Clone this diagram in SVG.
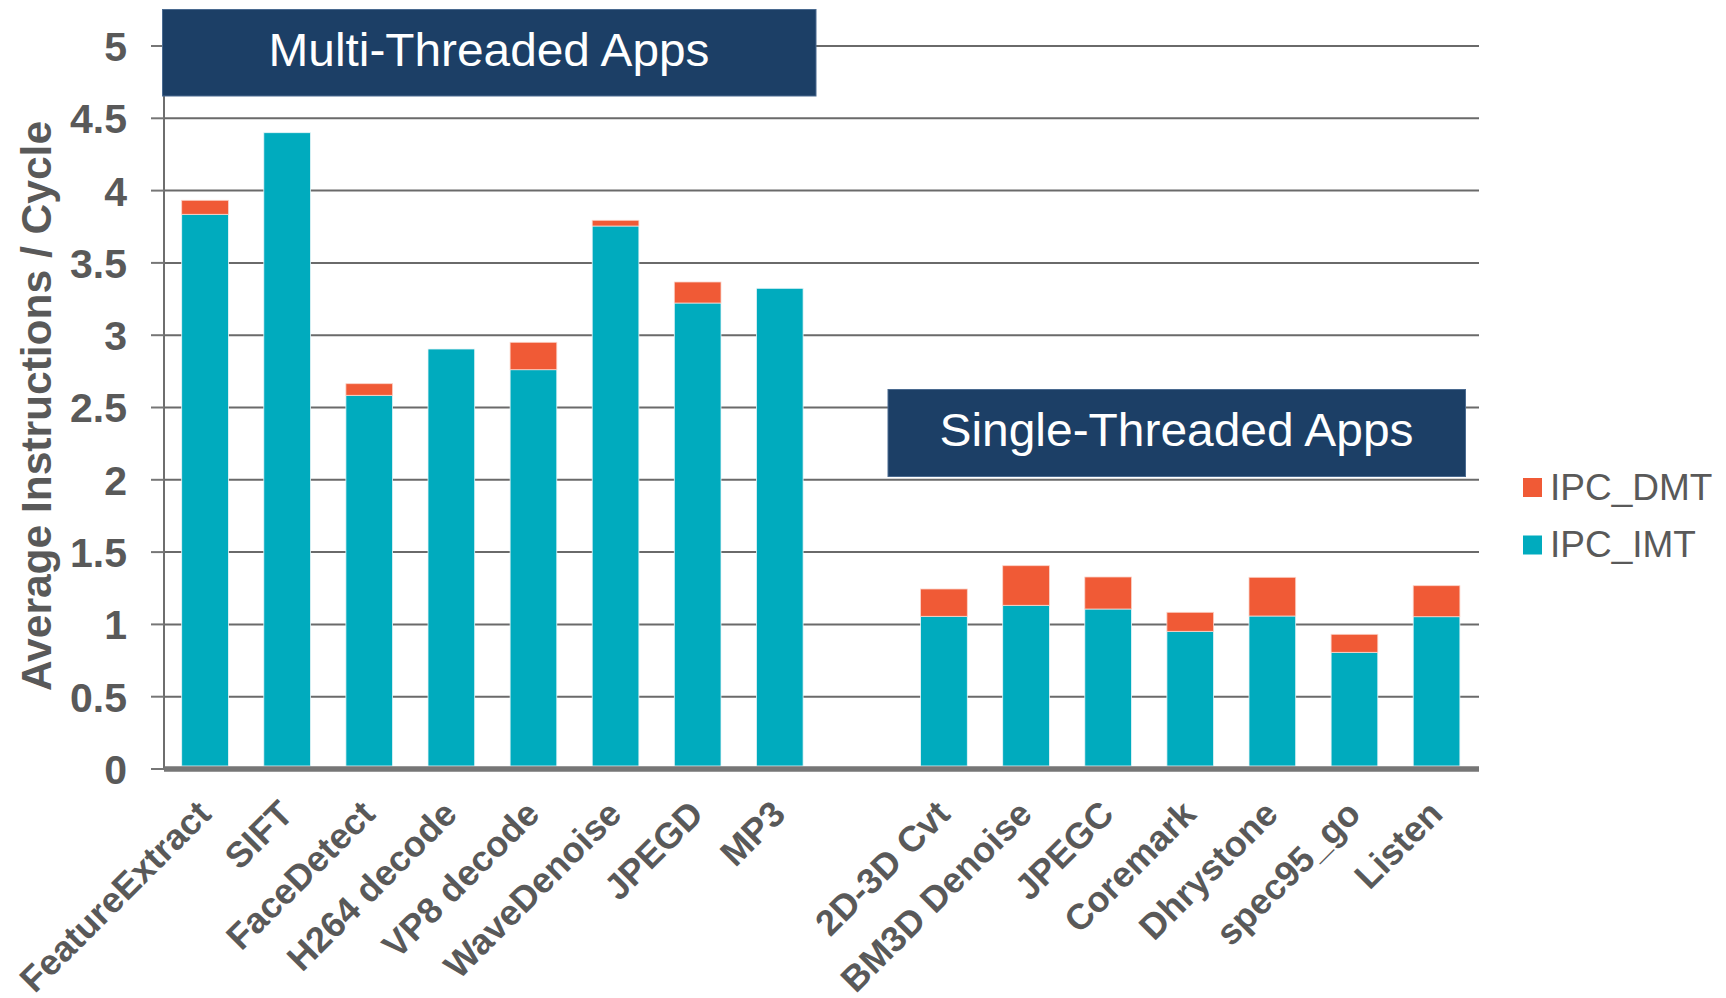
<svg xmlns="http://www.w3.org/2000/svg" width="1726" height="998" viewBox="0 0 1726 998">
<style>
.grid{stroke:#6a6a6a;stroke-width:2;fill:none}
.tick{stroke:#767676;stroke-width:2}
.imt{fill:#00abbe;stroke:#e8f6f8;stroke-width:0.8}
.dmt{fill:#f05a36;stroke:#fbd3c8;stroke-width:0.8}
.ylab{font-family:"Liberation Sans",Arial,sans-serif;font-weight:bold;font-size:41px;fill:#595959;text-anchor:end}
.xlab{font-family:"Liberation Sans",Arial,sans-serif;font-weight:bold;font-size:36px;fill:#595959;text-anchor:end}
.title{font-family:"Liberation Sans",Arial,sans-serif;font-weight:bold;font-size:42.5px;fill:#595959;text-anchor:middle}
.leg{font-family:"Liberation Sans",Arial,sans-serif;font-size:37px;fill:#595959}
.box{fill:#1c3f66;stroke:#4a6a90;stroke-width:1}
.boxt{font-family:"Liberation Sans",Arial,sans-serif;font-size:47px;fill:#ffffff;text-anchor:middle}
</style>
<rect width="1726" height="998" fill="#ffffff"/>
<g id="gridlines">
<line class="grid" x1="164" y1="46" x2="1479" y2="46"/>
<line class="grid" x1="164" y1="118.3" x2="1479" y2="118.3"/>
<line class="grid" x1="164" y1="190.6" x2="1479" y2="190.6"/>
<line class="grid" x1="164" y1="262.9" x2="1479" y2="262.9"/>
<line class="grid" x1="164" y1="335.2" x2="1479" y2="335.2"/>
<line class="grid" x1="164" y1="407.5" x2="1479" y2="407.5"/>
<line class="grid" x1="164" y1="479.8" x2="1479" y2="479.8"/>
<line class="grid" x1="164" y1="552.1" x2="1479" y2="552.1"/>
<line class="grid" x1="164" y1="624.4" x2="1479" y2="624.4"/>
<line class="grid" x1="164" y1="696.7" x2="1479" y2="696.7"/>
</g>
<g id="bars">
<rect class="imt" x="181.7" y="214.3" width="46.7" height="551.7"/>
<rect class="dmt" x="181.7" y="200.3" width="46.7" height="14"/>
<rect class="imt" x="263.8" y="132.7" width="46.7" height="633.3"/>
<rect class="imt" x="345.9" y="395.3" width="46.7" height="370.7"/>
<rect class="dmt" x="345.9" y="383.7" width="46.7" height="11.6"/>
<rect class="imt" x="428" y="349" width="46.7" height="417"/>
<rect class="imt" x="510.1" y="369.7" width="46.7" height="396.3"/>
<rect class="dmt" x="510.1" y="342.3" width="46.7" height="27.4"/>
<rect class="imt" x="592.2" y="226" width="46.7" height="540"/>
<rect class="dmt" x="592.2" y="220.3" width="46.7" height="5.7"/>
<rect class="imt" x="674.3" y="303" width="46.7" height="463"/>
<rect class="dmt" x="674.3" y="282" width="46.7" height="21"/>
<rect class="imt" x="756.4" y="288.3" width="46.7" height="477.7"/>
<rect class="imt" x="920.6" y="616.3" width="46.7" height="149.7"/>
<rect class="dmt" x="920.6" y="589" width="46.7" height="27.3"/>
<rect class="imt" x="1002.7" y="605.3" width="46.7" height="160.7"/>
<rect class="dmt" x="1002.7" y="565.7" width="46.7" height="39.6"/>
<rect class="imt" x="1084.8" y="609" width="46.7" height="157"/>
<rect class="dmt" x="1084.8" y="577" width="46.7" height="32"/>
<rect class="imt" x="1166.9" y="631.3" width="46.7" height="134.7"/>
<rect class="dmt" x="1166.9" y="612.3" width="46.7" height="19"/>
<rect class="imt" x="1249" y="616" width="46.7" height="150"/>
<rect class="dmt" x="1249" y="577.3" width="46.7" height="38.7"/>
<rect class="imt" x="1331.1" y="652.3" width="46.7" height="113.7"/>
<rect class="dmt" x="1331.1" y="634.3" width="46.7" height="18"/>
<rect class="imt" x="1413.2" y="616.7" width="46.7" height="149.3"/>
<rect class="dmt" x="1413.2" y="585.7" width="46.7" height="31"/>
</g>
<g id="axes">
<line x1="164" y1="46" x2="164" y2="769" stroke="#6e6e6e" stroke-width="2"/>
<line class="tick" x1="151" y1="46" x2="164" y2="46"/>
<line class="tick" x1="151" y1="118.3" x2="164" y2="118.3"/>
<line class="tick" x1="151" y1="190.6" x2="164" y2="190.6"/>
<line class="tick" x1="151" y1="262.9" x2="164" y2="262.9"/>
<line class="tick" x1="151" y1="335.2" x2="164" y2="335.2"/>
<line class="tick" x1="151" y1="407.5" x2="164" y2="407.5"/>
<line class="tick" x1="151" y1="479.8" x2="164" y2="479.8"/>
<line class="tick" x1="151" y1="552.1" x2="164" y2="552.1"/>
<line class="tick" x1="151" y1="624.4" x2="164" y2="624.4"/>
<line class="tick" x1="151" y1="696.7" x2="164" y2="696.7"/>
<line class="tick" x1="151" y1="769" x2="164" y2="769"/>
<line x1="164" y1="769" x2="1479" y2="769" stroke="#767676" stroke-width="5.5"/>
</g>
<g id="y-labels">
<text class="ylab" x="127" y="61">5</text>
<text class="ylab" x="127" y="133">4.5</text>
<text class="ylab" x="127" y="205.5">4</text>
<text class="ylab" x="127" y="277.5">3.5</text>
<text class="ylab" x="127" y="350">3</text>
<text class="ylab" x="127" y="422">2.5</text>
<text class="ylab" x="127" y="494.5">2</text>
<text class="ylab" x="127" y="567">1.5</text>
<text class="ylab" x="127" y="639">1</text>
<text class="ylab" x="127" y="711.5">0.5</text>
<text class="ylab" x="127" y="784">0</text>
</g>
<g id="y-title">
<text class="title" x="51" y="406" transform="rotate(-90 51 406)">Average Instructions / Cycle</text>
</g>
<g id="x-labels">
<text class="xlab" transform="translate(213,816) rotate(-45)">FeatureExtract</text>
<text class="xlab" transform="translate(295,816) rotate(-45)">SIFT</text>
<text class="xlab" transform="translate(377,816) rotate(-45)">FaceDetect</text>
<text class="xlab" transform="translate(459,816) rotate(-45)">H264 decode</text>
<text class="xlab" transform="translate(541.5,816) rotate(-45)">VP8 decode</text>
<text class="xlab" transform="translate(623.5,816) rotate(-45)">WaveDenoise</text>
<text class="xlab" transform="translate(705.5,816) rotate(-45)">JPEGD</text>
<text class="xlab" transform="translate(787.5,816) rotate(-45)">MP3</text>
<text class="xlab" transform="translate(952,816) rotate(-45)">2D-3D Cvt</text>
<text class="xlab" transform="translate(1034,816) rotate(-45)">BM3D Denoise</text>
<text class="xlab" transform="translate(1116,816) rotate(-45)">JPEGC</text>
<text class="xlab" transform="translate(1198,816) rotate(-45)">Coremark</text>
<text class="xlab" transform="translate(1280,816) rotate(-45)">Dhrystone</text>
<text class="xlab" transform="translate(1362.5,816) rotate(-45)">spec95_go</text>
<text class="xlab" transform="translate(1444.5,816) rotate(-45)">Listen</text>
</g>
<g id="multi-threaded-label">
<rect class="box" x="162.5" y="9.5" width="653.5" height="86.5"/>
<text class="boxt" x="489" y="65.5" textLength="441" lengthAdjust="spacingAndGlyphs">Multi-Threaded Apps</text>
</g>
<g id="single-threaded-label">
<rect class="box" x="888" y="389.5" width="577.5" height="87"/>
<text class="boxt" x="1176.5" y="446" textLength="474" lengthAdjust="spacingAndGlyphs">Single-Threaded Apps</text>
</g>
<g id="legend">
<rect x="1523" y="478" width="19" height="19" fill="#f05a36"/>
<text class="leg" x="1550" y="499.5">IPC_DMT</text>
<rect x="1523" y="535.5" width="19" height="19" fill="#00abbe"/>
<text class="leg" x="1550" y="557">IPC_IMT</text>
</g>
</svg>
